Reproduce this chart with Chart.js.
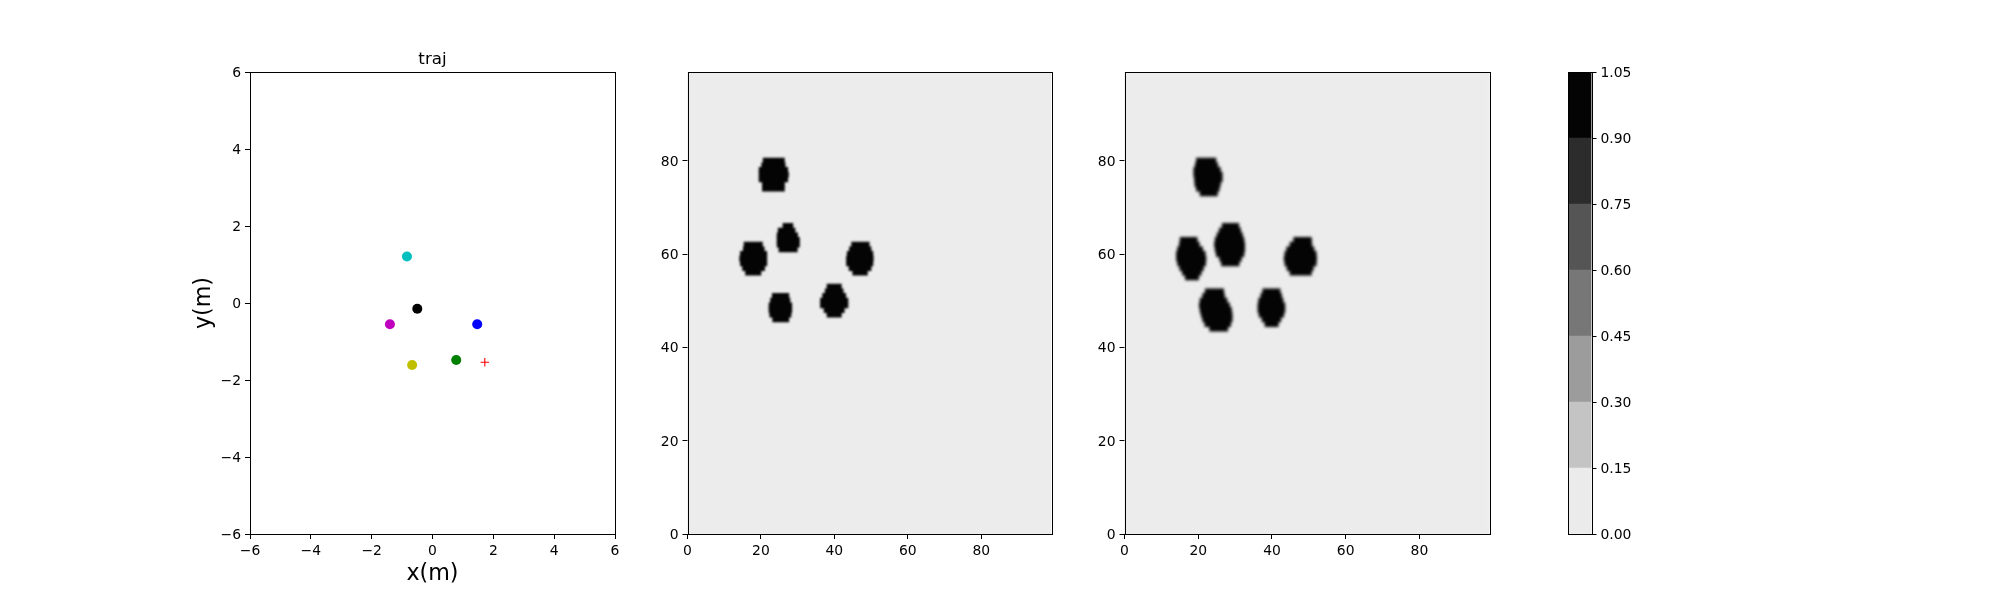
<!DOCTYPE html>
<html>
<head>
<meta charset="utf-8">
<title>traj</title>
<script src="https://cdn.jsdelivr.net/npm/chart.js@4"></script>
<style>
    html, body { margin: 0; padding: 0; background: #fff; }
    body { width: 2000px; height: 600px; position: relative; overflow: hidden; }
    canvas { position: absolute; top: 0; }
</style>
</head>
<body>
<canvas id="trajChart" width="440" height="600" style="left:190px"></canvas>
<canvas id="gridChart" width="430" height="600" style="left:639px"></canvas>
<canvas id="estChart" width="430" height="600" style="left:1076px"></canvas>
<canvas id="barChart" width="100" height="600" style="left:1568px"></canvas>
<script>
// traj points
const trajX = [-0.84, -0.5, -1.4, 1.47, 0.78, -0.67];
const trajY = [1.21, -0.15, -0.55, -0.55, -1.48, -1.61];
const trajColors = ['#00bfbf', '#000000', '#bf00bf', '#0000ff', '#008000', '#bfbf00'];
const goalX = [1.72];
const goalY = [-1.54];
const trajTicks = [-6, -4, -2, 0, 2, 4, 6];

// occupied cells of the middle map: [row, from, to]
const gridSpans = [
    [80, 20.6, 26.4], [79, 20.2, 26.6], [78, 19.5, 27.3], [77, 19.5, 27.5], [76, 19.5, 27.3], [75, 20.4, 26.4], [74, 20.4, 26.4],
    [66, 26.0, 28.7], [65, 24.7, 29.3], [64, 24.4, 30.0], [63, 24.4, 30.5], [62, 24.4, 30.5], [61, 24.9, 29.9],
    [62, 15.4, 20.4], [61, 15.2, 20.9], [60, 14.4, 21.6], [59, 14.2, 21.6], [58, 14.4, 21.6], [57, 15.0, 21.0], [56, 15.8, 20.0],
    [62, 44.7, 49.5], [61, 44.1, 50.0], [60, 43.5, 50.5], [59, 43.3, 50.6], [58, 43.3, 50.5], [57, 44.0, 50.0], [56, 45.0, 49.0],
    [53, 38.0, 41.9], [52, 37.5, 42.4], [51, 36.8, 43.1], [50, 36.2, 43.7], [49, 36.2, 43.7], [48, 37.2, 42.7], [47, 38.0, 41.9],
    [51, 23.1, 27.6], [50, 22.6, 27.9], [49, 22.2, 28.4], [48, 22.2, 28.4], [47, 22.4, 28.2], [46, 23.2, 27.6]
];

// occupied cells of the right map
const estSpans = [
    [80, 19.5, 24.8], [79, 19.2, 25.3], [78, 18.8, 26.0], [77, 18.8, 26.5], [76, 19.0, 26.5], [75, 19.1, 26.0], [74, 19.5, 25.7], [73, 20.5, 25.2],
    [66, 26.5, 31.0], [65, 25.7, 31.5], [64, 25.1, 32.0], [63, 24.6, 32.4], [62, 24.4, 32.6], [61, 24.6, 32.6], [60, 24.9, 32.4], [59, 25.8, 31.7], [58, 26.3, 31.1],
    [63, 15.1, 19.7], [62, 14.9, 20.3], [61, 14.4, 21.2], [60, 14.1, 21.9], [59, 14.1, 22.1], [58, 14.4, 22.0], [57, 15.0, 21.4], [56, 15.7, 20.8], [55, 16.5, 20.1],
    [63, 45.9, 50.7], [62, 44.9, 50.8], [61, 44.0, 51.4], [60, 43.5, 52.0], [59, 43.3, 52.1], [58, 43.5, 52.0], [57, 44.1, 51.2], [56, 44.9, 50.7],
    [52, 21.9, 26.9], [51, 21.2, 27.1], [50, 20.5, 27.8], [49, 20.3, 28.5], [48, 20.5, 29.0], [47, 20.8, 29.2], [46, 21.2, 29.2], [45, 21.8, 28.8], [44, 23.1, 28.0],
    [52, 37.5, 42.2], [51, 37.0, 42.6], [50, 36.4, 43.0], [49, 36.2, 43.5], [48, 36.2, 43.5], [47, 36.5, 43.2], [46, 37.3, 42.4], [45, 38.1, 41.7]
];

// colorbar
const levels = [0, 0.15, 0.30, 0.45, 0.60, 0.75, 0.90, 1.05];
const levelColors = ['#ebebeb', '#c4c4c4', '#9c9c9c', '#777777', '#555555', '#2c2c2c', '#040404'];

Chart.defaults.font.family = '"DejaVu Sans"';
Chart.defaults.font.size = 13.9;
Chart.defaults.color = '#000';
Chart.defaults.animation = false;
Chart.defaults.plugins.legend.display = false;
Chart.defaults.plugins.tooltip.enabled = false;

// frame, map background and the soft edge of the map cells
const framePlugin = {
    id: 'frame',
    beforeDatasetsDraw(chart, args, opts) {
        if (!opts.fill) return;
        const a = chart.chartArea;
        chart.ctx.fillStyle = opts.fill;
        chart.ctx.fillRect(a.left, a.top, a.width, a.height);
    },
    afterDatasetsDraw(chart, args, opts) {
        if (!opts.blur) return;
        const a = chart.chartArea;
        const r = chart.currentDevicePixelRatio;
        const ctx = chart.ctx;
        ctx.save();
        ctx.beginPath();
        ctx.rect(a.left, a.top, a.width, a.height);
        ctx.clip();
        ctx.filter = 'blur(' + opts.blur + 'px)';
        ctx.drawImage(chart.canvas, a.left * r, a.top * r, a.width * r, a.height * r, a.left, a.top, a.width, a.height);
        ctx.restore();
    },
    afterDraw(chart) {
        const a = chart.chartArea;
        const ctx = chart.ctx;
        ctx.save();
        ctx.strokeStyle = '#000';
        ctx.lineWidth = 1;
        ctx.strokeRect(Math.round(a.left) + 0.5, Math.round(a.top) + 0.5, Math.round(a.width), Math.round(a.height));
        ctx.restore();
    }
};
Chart.register(framePlugin);

const tickGrid = { drawOnChartArea: false, tickLength: 5, tickWidth: 1, tickColor: '#000', offset: false };

function minusLabel(v) {
    return String(v).replace('-', '\u2212');
}

new Chart(document.getElementById('trajChart'), {
    type: 'scatter',
    data: {
        datasets: [
            {
                data: trajX.map((x, i) => ({ x: x, y: trajY[i] })),
                backgroundColor: trajColors,
                borderWidth: 0,
                pointRadius: 5
            },
            {
                data: goalX.map((x, i) => ({ x: x, y: goalY[i] })),
                pointStyle: 'cross',
                borderColor: '#ff0000',
                borderWidth: 1.1,
                pointRadius: 4.2
            }
        ]
    },
    options: {
        responsive: false,
        layout: { padding: { right: 15 } },
        plugins: {
            title: {
                display: true,
                text: 'traj',
                fullSize: false,
                font: { size: 16.7, weight: 'normal' },
                padding: { top: 50, bottom: 2 }
            }
        },
        scales: {
            x: {
                type: 'linear', min: -6, max: 6,
                afterFit: s => { s.height = 66; },
                afterBuildTicks: s => { s.ticks = trajTicks.map(v => ({ value: v })); },
                grid: tickGrid,
                border: { display: false },
                ticks: { maxRotation: 0, padding: 4, callback: minusLabel },
                title: { display: true, text: 'x(m)', font: { size: 22.2 }, padding: { top: 12, bottom: 12 } }
            },
            y: {
                type: 'linear', min: -6, max: 6,
                afterFit: s => { s.width = 60; },
                afterBuildTicks: s => { s.ticks = trajTicks.map(v => ({ value: v })); },
                grid: tickGrid,
                border: { display: false },
                ticks: { padding: 4, labelOffset: 1.5, callback: minusLabel },
                title: { display: true, text: 'y(m)', font: { size: 22.2 }, padding: { top: 1, bottom: 1 } }
            }
        }
    }
});

function mapChart(id, spans, axisWidth, rightPad, blur) {
    new Chart(document.getElementById(id), {
        type: 'bar',
        data: {
            datasets: [{
                data: spans.map(s => ({ y: s[0], x: [s[1], s[2]] })),
                backgroundColor: '#040404',
                borderWidth: 0,
                borderSkipped: false,
                barThickness: 5.1
            }]
        },
        options: {
            indexAxis: 'y',
            responsive: false,
            layout: { padding: { top: 72, right: rightPad } },
            plugins: { frame: { fill: '#ececec', blur: blur } },
            scales: {
                x: {
                    type: 'linear', min: 0, max: 99,
                    afterFit: s => { s.height = 66; },
                    grid: tickGrid,
                    border: { display: false },
                    ticks: { stepSize: 20, includeBounds: false, maxRotation: 0, padding: 4 }
                },
                y: {
                    type: 'linear', min: 0, max: 99,
                    offset: false,
                    afterFit: s => { s.width = axisWidth; },
                    grid: tickGrid,
                    border: { display: false },
                    ticks: { stepSize: 20, includeBounds: false, padding: 4, labelOffset: 1.5 }
                }
            }
        }
    });
}

mapChart('gridChart', gridSpans, 48.5, 18, 0.9);
mapChart('estChart', estSpans, 48.5, 16.5, 1.8);

new Chart(document.getElementById('barChart'), {
    type: 'bar',
    data: {
        labels: ['level'],
        datasets: levelColors.map((c, i) => ({
            data: [[levels[i], levels[i + 1]]],
            backgroundColor: c,
            borderWidth: 0,
            grouped: false,
            categoryPercentage: 1,
            barPercentage: 1
        }))
    },
    options: {
        responsive: false,
        layout: { padding: { top: 72, bottom: 66 } },
        scales: {
            x: { display: false },
            y: {
                position: 'right',
                min: 0, max: 1.05,
                afterFit: s => { s.width = 76.5; },
                afterBuildTicks: s => { s.ticks = levels.map(v => ({ value: v })); },
                grid: tickGrid,
                border: { display: false },
                ticks: { padding: 4, labelOffset: 1.5, callback: v => v.toFixed(2) }
            }
        }
    }
});
</script>
</body>
</html>
